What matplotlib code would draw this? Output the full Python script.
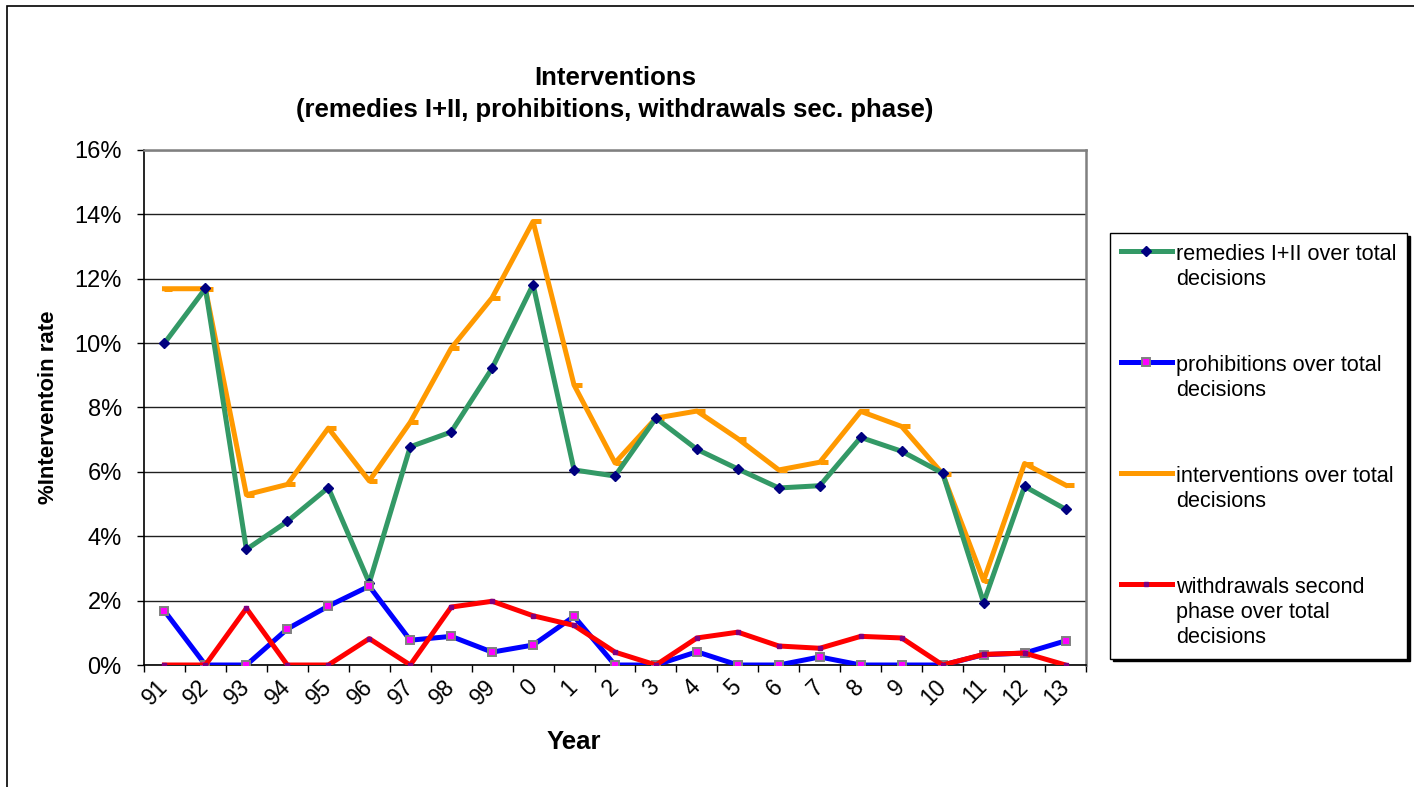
import matplotlib
matplotlib.use("Agg")
import matplotlib.pyplot as plt
from matplotlib.patches import Rectangle
from matplotlib.path import Path
from matplotlib.ticker import FixedLocator, FuncFormatter

plt.rcParams['font.family'] = ['Liberation Sans', 'DejaVu Sans']

# data (percent of total decisions)
years = ['91', '92', '93', '94', '95', '96', '97', '98', '99', '0', '1', '2',
         '3', '4', '5', '6', '7', '8', '9', '10', '11', '12', '13']
remedies = [10.0, 11.7, 3.59, 4.46, 5.51, 2.55, 6.78, 7.24, 9.22, 11.82, 6.06, 5.87,
            7.67, 6.70, 6.09, 5.50, 5.57, 7.07, 6.64, 5.96, 1.94, 5.55, 4.84]
prohibitions = [1.68, 0.0, 0.0, 1.12, 1.83, 2.45, 0.77, 0.89, 0.40, 0.62, 1.51, 0.0,
                0.0, 0.41, 0.0, 0.0, 0.25, 0.0, 0.0, 0.0, 0.32, 0.37, 0.75]
interventions = [11.69, 11.69, 5.29, 5.61, 7.36, 5.72, 7.54, 9.84, 11.41, 13.78, 8.70, 6.28,
                 7.67, 7.89, 7.03, 6.06, 6.30, 7.88, 7.41, 5.94, 2.62, 6.26, 5.59]
withdrawals = [0.0, 0.0, 1.76, 0.0, 0.0, 0.82, 0.0, 1.80, 1.98, 1.53, 1.23, 0.40,
               0.0, 0.84, 1.02, 0.59, 0.52, 0.89, 0.84, 0.0, 0.33, 0.37, 0.0]

labels = ['remedies I+II over total\ndecisions',
          'prohibitions over total\ndecisions',
          'interventions over total\ndecisions',
          'withdrawals second\nphase over total\ndecisions']

W, H = 1414, 787
fig = plt.figure(figsize=(W / 100, H / 100), dpi=100)
ax = fig.add_axes([144 / W, 1 - 665 / H, (1086 - 144) / W, (665 - 150) / H])

x = range(len(years))
# excel style dash marker sticking out to the right of the point
dash = Path([(0, 0), (1, 0)], [Path.MOVETO, Path.LINETO])

ax.plot(x, remedies, color='#339966', lw=3.6, marker='D', ms=5,
        mfc='#000080', mec='#000080', label=labels[0], zorder=3)
ax.plot(x, prohibitions, color='#0000FF', lw=3.6, marker='s', ms=6,
        mfc='#FF00FF', mec='#808080', mew=1.4, label=labels[1], zorder=3)
ax.plot(x, interventions, color='#FF9900', lw=3.6, marker=dash, ms=12,
        mec='#FF9900', mew=3.6, label=labels[2], zorder=2)
ax.plot(x, withdrawals, color='#FF0000', lw=3.6, marker='s', ms=3,
        mfc='#800080', mec='#800080', label=labels[3], zorder=3)

ax.set_xlim(-0.5, len(years) - 0.5)
ax.set_ylim(0, 16)
ax.set_yticks(range(0, 17, 2))
ax.yaxis.set_major_formatter(FuncFormatter(lambda v, p: '%d%%' % v))
ax.yaxis.grid(True, color='#202020', lw=1)
ax.set_axisbelow(True)

ax.set_xticks(list(x))
ax.set_xticklabels(years, rotation=45, ha='right', va='center', rotation_mode='anchor')
ax.xaxis.set_minor_locator(FixedLocator([i - 0.5 for i in range(len(years) + 1)]))
ax.tick_params(axis='x', which='major', length=0, pad=13, labelsize=16.5)
ax.tick_params(axis='x', which='minor', length=5, width=1, direction='out')
ax.tick_params(axis='y', length=5, width=1, direction='out', pad=11, labelsize=17)

for s in ['top', 'right']:
    ax.spines[s].set_color('#808080')
    ax.spines[s].set_linewidth(1.8)
for s in ['left', 'bottom']:
    ax.spines[s].set_color('black')
    ax.spines[s].set_linewidth(1.2)

ax.set_ylabel('%Interventoin rate', fontsize=16, fontweight='bold')
ax.yaxis.set_label_coords((59 - 144) / 942, 0.5)
ax.set_xlabel('Year', fontsize=18.5, fontweight='bold')
ax.xaxis.set_label_coords((574 - 144) / 942, (665 - 730) / 515)

fig.text(615 / W, 1 - 94 / H,
         'Interventions\n(remedies I+II, prohibitions, withdrawals sec. phase)',
         ha='center', va='center', fontsize=18.5, fontweight='bold', linespacing=1.4)

leg = fig.legend(loc='upper left', bbox_to_anchor=(1110 / W, 1 - 233 / H),
                 fontsize=15.6, frameon=True, fancybox=False,
                 shadow={'color': 'black', 'alpha': 1},
                 labelspacing=3.0, handlelength=2.35, handletextpad=0.2,
                 borderpad=0.5, borderaxespad=0)
leg.get_frame().set_edgecolor('black')
leg.get_frame().set_linewidth(1)
for t in leg.get_texts():
    t.set_linespacing(1.25)
# put the handle next to the first line of each entry, like excel does
for col in leg._legend_handle_box.get_children():
    for row in col.get_children():
        row.align = 'top'
for h in leg.legend_handles:
    if h.get_color() == '#FF9900':
        h.set_marker('None')

# outer chart border, cut off on the right and bottom
fig.add_artist(Rectangle((7 / W, -0.1), 1.2, 1 - 6 / H + 0.1,
                         transform=fig.transFigure, fill=False,
                         edgecolor='black', lw=1.2))

fig.savefig('out.png', dpi=100)
